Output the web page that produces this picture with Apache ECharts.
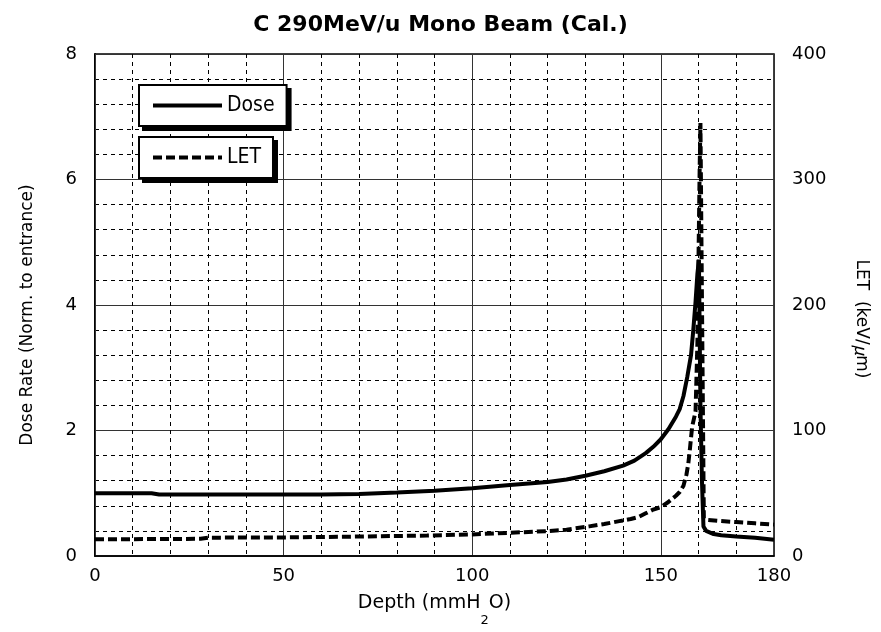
<!DOCTYPE html>
<html>
<head>
<meta charset="utf-8">
<script src="https://cdn.jsdelivr.net/npm/echarts@6/dist/echarts.min.js"></script>
<style>
html, body { margin: 0; padding: 0; background: #fff; }
#main { width: 881px; height: 632px; }
</style>
</head>
<body>
<div id="main"></div>
<script>
// dose curve, depth in mmH2O, dose normalised to entrance
var doseDepth = [0, 15, 17, 30, 60, 70, 80, 90, 100, 110, 120, 125, 130, 135, 140, 143, 146, 148, 150, 152, 154, 155, 156, 157, 158, 158.6, 159.2, 159.7, 160.1, 160.5, 160.9, 161.3, 162, 164, 166, 170, 175, 180];
var doseValue = [1.00, 1.00, 0.98, 0.98, 0.98, 0.99, 1.01, 1.04, 1.08, 1.13, 1.18, 1.22, 1.28, 1.35, 1.44, 1.52, 1.64, 1.74, 1.86, 2.02, 2.22, 2.34, 2.55, 2.85, 3.2, 3.6, 4.05, 4.5, 4.72, 2.4, 1.2, 0.47, 0.40, 0.35, 0.33, 0.31, 0.29, 0.26];

// LET curve (keV/um)
var letDepth = [0, 15, 28, 30, 50, 70, 88, 100, 110, 120, 125, 131, 135, 139, 142, 144, 146, 148, 150, 152, 154, 155, 156, 156.8, 157.3, 157.7, 158.3, 159.2, 159.7, 160.0, 160.3, 160.5, 161.4, 162, 165, 170, 175, 180];
var letValue = [13.3, 13.5, 13.7, 14.6, 14.8, 15.5, 16.3, 17.2, 18.5, 19.8, 21, 23.6, 25.5, 27.8, 29.5, 31, 34, 37, 39, 43, 48, 51, 56, 65, 74, 85, 103, 115, 170, 240, 310, 345, 30, 28.8, 28, 27, 26, 25];

var depthRange = [0, 180];
var doseRange = [0, 8];
var letRange = [0, 400];

function pairs(xs, ys) {
    return xs.map(function (x, i) { return [x, ys[i]]; });
}

var font = 'DejaVu Sans';
var narrow = '"Liberation Sans Narrow", "DejaVu Sans Condensed", "Arial Narrow", sans-serif';
var dashed = { color: '#000', width: 1, type: [4, 4] };

// one boxed legend; a black copy shifted by 4px underneath acts as the drop shadow
function legendBox(name, left, top, bg, z) {
    return {
        data: [name],
        left: left,
        top: top,
        z: z,
        orient: 'horizontal',
        selectedMode: false,
        padding: [10, 12, 10, 12],
        itemWidth: 69,
        itemHeight: 14,
        lineStyle: { width: 4 },
        itemStyle: { opacity: 0 },
        backgroundColor: bg,
        borderColor: '#000',
        borderWidth: 2,
        textStyle: { fontFamily: narrow, fontSize: 21, color: '#000' }
    };
}

var chart = echarts.init(document.getElementById('main'));

var option = {
    animation: false,
    backgroundColor: '#fff',
    title: {
        text: 'C 290MeV/u Mono Beam (Cal.)',
        left: 'center',
        top: 9,
        textStyle: { fontFamily: font, fontSize: 22, fontWeight: 'bold', color: '#000' }
    },
    legend: [
        legendBox('Dose', 143, 89, '#000', 5),
        legendBox('LET', 143, 141, '#000', 5),
        legendBox('Dose', 139, 85, '#fff', 6),
        legendBox('LET', 139, 137, '#fff', 6)
    ],
    grid: {
        left: 95, right: 107, top: 54, bottom: 71,
        show: true, borderColor: '#000', borderWidth: 1.5, backgroundColor: 'transparent'
    },
    xAxis: [
        {
            type: 'value',
            min: depthRange[0], max: depthRange[1], interval: 50,
            name: 'Depth (mmH{s|2}O)',
            nameLocation: 'middle',
            nameGap: 24,
            nameTextStyle: {
                fontFamily: font, fontSize: 19, color: '#000',
                rich: { s: { fontFamily: font, fontSize: 13, color: '#000', padding: [34, 0, 0, 0] } }
            },
            axisLine: { lineStyle: { color: '#000', width: 1.5 } },
            axisTick: { show: false },
            axisLabel: { fontFamily: font, fontSize: 18, color: '#000', margin: 11 },
            splitLine: { lineStyle: { color: '#333', width: 1 } },
            z: 3
        },
        {
            // only for the 10 mm dashed grid
            type: 'value',
            min: depthRange[0], max: depthRange[1], interval: 10,
            axisLine: { show: false },
            axisTick: { show: false },
            axisLabel: { show: false },
            splitLine: { lineStyle: dashed },
            z: 1
        }
    ],
    yAxis: [
        {
            type: 'value',
            min: doseRange[0], max: doseRange[1], interval: 2,
            name: 'Dose Rate (Norm. to entrance)',
            nameLocation: 'middle',
            nameGap: 59,
            nameTextStyle: { fontFamily: font, fontSize: 17, color: '#000', padding: [0, 20, 0, 0] },
            axisLine: { show: true, lineStyle: { color: '#000', width: 1.5 } },
            axisTick: { show: false },
            axisLabel: { fontFamily: font, fontSize: 18, color: '#000', margin: 18 },
            splitLine: { lineStyle: { color: '#333', width: 1 } },
            minorTick: { show: false, splitNumber: 5 },
            minorSplitLine: { show: true, lineStyle: dashed }
        },
        {
            type: 'value',
            position: 'right',
            min: letRange[0], max: letRange[1], interval: 100,
            name: 'LET  (keV/{mu|μ}m)',
            nameLocation: 'middle',
            nameRotate: -90,
            nameGap: 79,
            nameTextStyle: {
                fontFamily: font, fontSize: 17, color: '#000', padding: [0, 0, 0, 28],
                rich: { mu: { fontFamily: 'Noto Sans CJK JP', fontSize: 17, fontStyle: 'italic', color: '#000' } }
            },
            axisLine: { show: true, lineStyle: { color: '#000', width: 1.5 } },
            axisTick: { show: false },
            axisLabel: { fontFamily: font, fontSize: 18, color: '#000', margin: 18 },
            splitLine: { show: false }
        }
    ],
    series: [
        {
            name: 'Dose',
            type: 'line',
            xAxisIndex: 0,
            yAxisIndex: 0,
            data: pairs(doseDepth, doseValue),
            symbol: 'none',
            lineStyle: { color: '#000', width: 4 },
            itemStyle: { color: '#000' },
            z: 5
        },
        {
            name: 'LET',
            type: 'line',
            xAxisIndex: 0,
            yAxisIndex: 1,
            data: pairs(letDepth, letValue),
            symbol: 'none',
            lineStyle: { color: '#000', width: 4, type: [9, 4] },
            itemStyle: { color: '#000' },
            z: 4
        }
    ]
};

chart.setOption(option);
</script>
</body>
</html>
